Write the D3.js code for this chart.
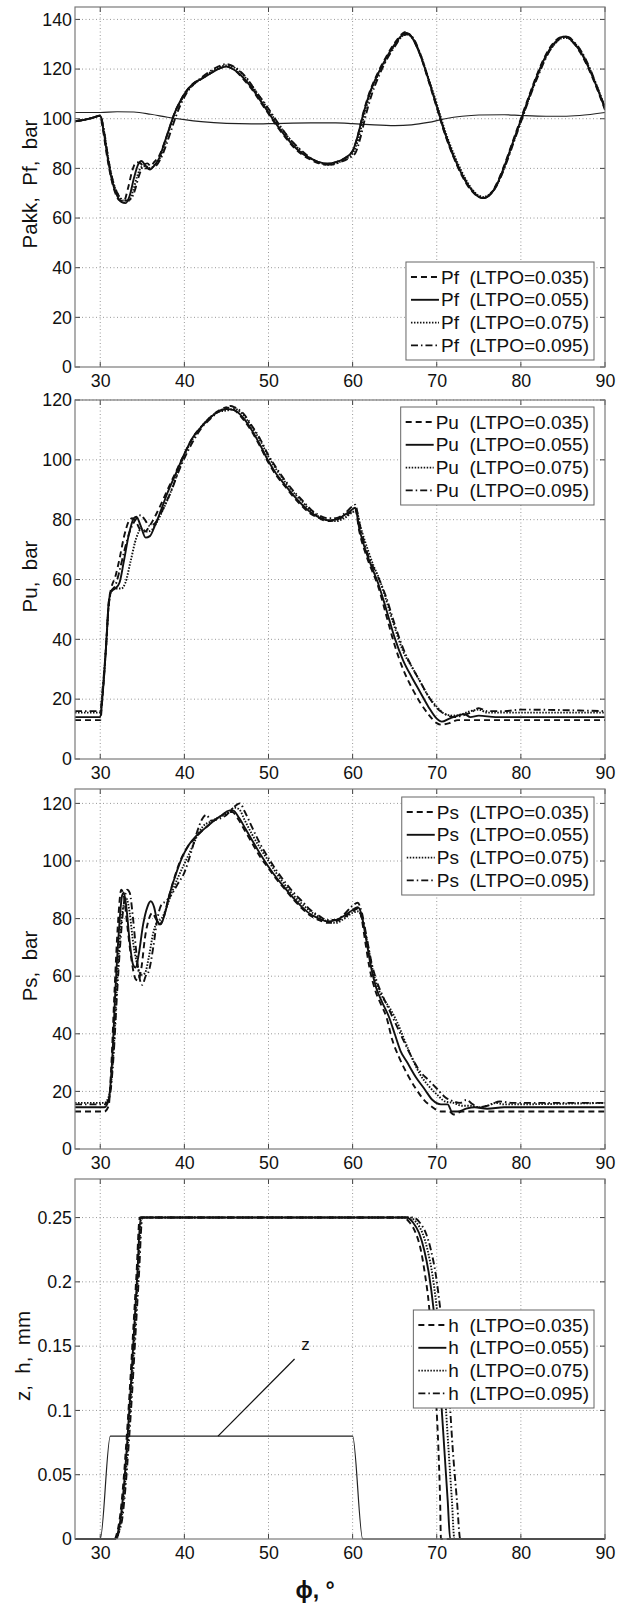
<!DOCTYPE html>
<html><head><meta charset="utf-8">
<script src="https://cdn.jsdelivr.net/npm/d3@7"></script>
<style>
body{margin:0;background:#fff}
svg{display:block}
text{font-family:"Liberation Sans",Arial,Helvetica,sans-serif;fill:#111}
</style>
</head><body>
<svg id="c" width="619" height="1607"></svg>
<script>
// ---------- data ----------
const xDomain = [27, 90];
const xTicks = [30, 40, 50, 60, 70, 80, 90];
const yTicksP = [0, 20, 40, 60, 80, 100, 120, 140];
const yTicksU = [0, 20, 40, 60, 80, 100, 120];
const yTicksH = [0, 0.05, 0.1, 0.15, 0.2, 0.25];
const ltpo = ["0.035", "0.055", "0.075", "0.095"];
const dashes = ["6,4", null, "1.5,1.5", "7,3,1.5,3"];

// Panel 1: Pf for each LTPO, plus Pakk (thin)
const pf035 = [[27,99],[28,99.5],[29,100.3],[30,101.2],[30.3,96],[30.8,85],[31.3,76],[31.8,70],[32.3,67],[32.8,66.8],[33.3,72],[33.8,79],[34.3,82.5],[34.8,82],[35.3,80],[35.8,80],[36.4,82.5],[37,85],[37.6,90],[38.2,96],[38.8,102],[39.5,107],[40,110],[41,114],[42,116],[43,118],[44,120],[45,121],[46,119.5],[47,116],[48,112],[49,107],[50,102],[51,97],[52,92.5],[53,88.5],[54,85.5],[55,83.5],[56,82],[56.8,81.5],[58,82.5],[59,84],[60,87],[60.6,93],[61.2,101.5],[62,110.5],[63,118.5],[64,125],[65,130.5],[66,134.5],[66.3,135],[67,133],[68,126],[69,115.5],[70,104.5],[71,93.5],[72,84.5],[73,77],[74,71.5],[75,68.5],[75.5,68],[76,68.5],[77,73],[78,81],[79,90.5],[80,100],[81,109.5],[82,118.5],[83,126],[84,131],[85,133],[85.4,133],[86,131.5],[87,127],[88,120.5],[89,112.5],[90,103.5]];
const pf055 = [[27,99],[28,99.5],[29,100.3],[30,101.2],[30.4,95],[30.9,84],[31.4,75],[32,69],[32.5,66.5],[33,66],[33.5,69],[34,76],[34.5,81.5],[34.9,83],[35.4,81],[35.9,79.5],[36.5,81.5],[37,84],[37.6,90],[38.2,96],[38.8,102],[39.5,107],[40,110],[41,114],[42,116],[43,118],[44,120],[45,121],[46,119.5],[47,116.5],[48,112.5],[49,107.5],[50,102.5],[51,97.5],[52,93],[53,89],[54,86],[55,84],[56,82.5],[57,82],[58,82.5],[59,84],[60,87],[60.6,93],[61.2,101],[62,110],[63,118],[64,124.5],[65,130],[66,134],[66.4,134.5],[67,133],[68,126],[69,116],[70,105],[71,94],[72,85],[73,77.5],[74,72],[75,68.5],[75.5,68],[76,68.5],[77,72.5],[78,80.5],[79,90],[80,99.5],[81,109],[82,118],[83,125.5],[84,130.5],[85,133],[85.5,133],[86,131.5],[87,127.5],[88,121],[89,113],[90,104]];
const pf075 = [[27,99],[28,99.5],[29,100.3],[30,101.2],[30.5,94],[31,83],[31.5,75],[32.2,69],[32.8,67],[33.4,67],[33.9,71],[34.4,77],[34.9,80.5],[35.4,81],[35.9,80],[36.4,81],[37,83.5],[37.6,89],[38.2,95.5],[38.8,101.5],[39.5,106.5],[40,109.5],[41,113.5],[42,116],[43,118.5],[44,120.5],[45,121.5],[46,120.5],[47,117.5],[48,113.5],[49,108.5],[50,103.5],[51,98.5],[52,94],[53,90],[54,86.5],[55,84],[56,82.5],[57,81.5],[58,82],[59,83.5],[60,86],[60.7,92],[61.3,100.5],[62,109],[63,117.5],[64,124],[65,129.5],[66,133.5],[66.5,134],[67,133],[68,126.5],[69,116.5],[70,106],[71,95],[72,86],[73,78.5],[74,72.5],[75,69],[75.6,68.5],[76,69],[77,72.5],[78,80],[79,89.5],[80,99],[81,108.5],[82,117.5],[83,125],[84,130],[85,132.5],[85.6,132.5],[86,131.5],[87,128],[88,121.5],[89,113.5],[90,104.5]];
const pf095 = [[27,99],[28,99.5],[29,100.3],[30,101.2],[30.5,94],[31,83],[31.5,75],[32.2,69],[32.9,67],[33.6,67.5],[34.1,71],[34.6,77],[35.1,81],[35.6,82],[36.1,80.5],[36.6,81],[37.2,84],[37.8,89],[38.4,95],[39,101],[39.6,106],[40.2,110],[41,113.5],[42,116.5],[43,119],[44,121],[45,122],[45.6,121.5],[46.5,119.5],[47.5,116],[48.5,111],[49.5,106.5],[50.5,101.5],[51.5,96.5],[52.5,92],[53.5,88.5],[54.5,85.5],[55.5,83],[56.5,81.8],[57.5,81.5],[58.5,82.5],[59.5,84],[60.3,86],[60.9,92],[61.5,100.5],[62.2,109],[63.1,117],[64,123.5],[65,129],[66,133.5],[66.6,134],[67.2,132.5],[68.1,125.5],[69.1,115],[70.1,104],[71.1,93],[72.1,84],[73.1,77],[74.1,71.5],[75.1,68.5],[75.6,68],[76.2,69],[77.2,73.5],[78.2,81.5],[79.2,91],[80.2,100.5],[81.2,110],[82.2,118.5],[83.2,126],[84.2,131],[85.2,133],[85.7,132.8],[86.3,131],[87.3,126.5],[88.3,119.5],[89.2,111.5],[90,104.5]];
const pakk = [[27,102.5],[30,102.5],[32,102.8],[34,102.7],[36,101.8],[38,100.6],[40,99.6],[42,98.8],[45,98.1],[48,97.9],[50,98],[55,98.3],[58,98.3],[60,98],[62,97.6],[65,97.2],[67,97.5],[69,98.5],[71,100],[73,101],[75,101.5],[78,101.6],[80,101.3],[83,101],[85,101],[87,101.3],[90,102.5]];

// Panel 2: Pu
const pu035 = [[27,13],[30,13],[30.3,22],[30.7,38],[31,52],[31.3,57],[31.8,61],[32.3,67],[32.8,74],[33.4,79.5],[33.8,80.5],[34.3,79],[34.8,76.5],[35.3,76],[35.9,78],[36.5,81],[37.2,85],[38,90],[39,96],[40,102],[41,107.5],[42,111],[43,114],[44,116.3],[45,117.5],[46,116.5],[47,113.5],[48,109.5],[49,104.5],[50,99],[51,94.5],[52,91],[53,87.5],[54,84.5],[55,82],[56,80.5],[57,79.5],[58,80],[59,81],[60,83],[60.3,83.5],[60.8,76],[61.5,69],[62.3,63],[63,58],[64,48],[65,38],[66,30],[67,24],[68,19],[69,15],[70,12],[70.5,11.5],[71.5,12],[72.5,13],[73.5,13],[75,13],[80,13],[90,13]];
const pu055 = [[27,14],[30,14],[30.3,22],[30.7,38],[31,52],[31.3,56],[31.8,57],[32.3,59],[32.8,66],[33.4,75],[34,80.5],[34.3,81],[34.8,78],[35.4,74],[35.9,74.5],[36.5,78],[37.2,83],[38,89],[39,95.5],[40,102],[41,107.5],[42,111],[43,114],[44,116],[45,117],[46,116.5],[47,114],[48,110],[49,105],[50,99.5],[51,95],[52,91.5],[53,88],[54,85],[55,82.5],[56,80.8],[57,79.8],[58,80],[59,81.5],[60,83.5],[60.3,84],[60.8,77],[61.5,70],[62.3,64],[63,59],[64,50],[65,40.5],[66,33],[67,27.5],[68,22.5],[69,17.5],[70,13.5],[70.6,12.5],[71.5,13.5],[72.5,14.5],[73.3,15],[74,14],[75,14.5],[77,14],[80,14],[90,14]];
const pu075 = [[27,15.5],[30,15.5],[30.3,23],[30.7,38],[31,51],[31.3,56],[31.8,57],[32.5,57],[33,59],[33.6,66],[34.3,74],[34.9,77],[35.5,76],[36.1,76.5],[36.7,79],[37.4,83],[38.2,88],[39,94],[40,101.5],[41,107],[42,111],[43,114],[44,116],[45,116.5],[46,117],[47,115],[48,111],[49,106.5],[50,101],[51,96.5],[52,92.5],[53,89],[54,86],[55,83],[56,81],[57,79.8],[58,79.5],[59,80.5],[60,82.5],[60.4,83],[61,77],[61.8,70],[62.5,64.5],[63.2,60],[64,53],[65,44],[66,36],[67,31],[68,26],[69,21],[70,17.5],[71,15],[72,14.5],[73,15],[74,16],[75,16.5],[76,15.5],[78,15.5],[90,15.5]];
const pu095 = [[27,16],[30,16],[30.3,24],[30.7,38],[31,51],[31.3,56],[31.8,58],[32.3,63],[32.9,70],[33.5,76],[34.2,80],[34.8,81.5],[35.3,80],[35.8,78],[36.4,78.5],[37,81],[37.7,85],[38.5,90],[39.3,96],[40,100.5],[41,106],[42,110.5],[43,113.5],[44,116],[45,117.5],[45.5,118],[46,117.5],[47,115.5],[48,111.5],[49,107],[50,101.5],[51,97],[52,93],[53,89.5],[54,86.5],[55,83.5],[56,81.5],[57,80.5],[58,80.5],[59,82],[60,84.5],[60.3,85],[60.8,79],[61.5,71],[62.3,65],[63,61],[64,54],[65,45],[66,37],[67,31],[68,26],[69,21],[70,17],[71,15],[72,14],[73,14.5],[74,15.5],[75,17],[76,16],[78,16],[80,16.5],[90,16]];

// Panel 3: Ps
const ps035 = [[27,13],[30.5,13],[31,15],[31.3,28],[31.7,55],[32.1,78],[32.5,90],[32.8,88],[33.2,78],[33.7,66],[34.2,59],[34.5,58.5],[34.9,63],[35.3,73],[35.8,80],[36.2,82],[36.6,80],[37,78],[37.5,80],[38.1,87],[38.8,94],[39.5,100],[40.3,104.5],[41.3,108],[42.3,111],[43.3,113.5],[44.3,115.5],[45.2,117],[45.7,117],[46.4,114.5],[47.2,110.5],[48,106.5],[49,101.5],[50,97.5],[51,93.5],[52,90],[53,86.5],[54,83.5],[55,81],[56,79.5],[57,78.5],[58,79],[59,80.5],[60,82.5],[60.6,83.5],[61,81],[61.5,72],[62,63],[62.7,55],[63.4,50],[64,46],[64.7,38],[65.5,32],[66.5,26],[67.5,21],[68.5,17],[69.5,14.5],[70.5,13],[71.5,13],[72,12],[73,13],[75,13],[80,13],[90,13]];
const ps055 = [[27,14.5],[30.5,14.5],[31,17],[31.4,30],[31.8,55],[32.2,75],[32.6,88],[32.8,89],[33.1,84],[33.5,72],[33.9,64],[34.2,63],[34.6,68],[35.1,78],[35.6,84],[36,86],[36.4,84],[36.8,79],[37.2,78],[37.7,82],[38.3,89],[39,95.5],[39.7,101],[40.5,105.5],[41.5,109],[42.5,111.5],[43.5,114],[44.5,116],[45.3,117.5],[45.8,117.5],[46.5,115],[47.3,111],[48,107.5],[49,102.5],[50,98],[51,94],[52,90.5],[53,87],[54,84],[55,81.5],[56,80],[57,79],[58,79.5],[59,81],[60,83],[60.6,84],[61,82],[61.6,73],[62.2,63],[62.8,56],[63.5,51],[64.3,46],[65,40],[65.7,34],[66.5,30],[67.5,25],[68.5,21],[69.5,17],[70.5,15.5],[71.3,15.5],[71.8,13],[72.5,13],[73.5,14],[74.5,14.5],[76,14],[78,14.5],[90,14.5]];
const ps075 = [[27,16],[30.5,16],[31.1,19],[31.6,35],[32,58],[32.4,76],[32.8,85],[33.1,87],[33.5,82],[33.9,72],[34.4,64],[34.9,60.5],[35.3,61],[35.8,67],[36.3,75],[36.8,79],[37.3,80],[37.9,84],[38.5,89],[39.2,94],[40,99],[40.8,104],[41.5,108.5],[42.2,112],[43,113.5],[44,115],[45,116.5],[46,118.5],[46.5,118],[47.2,114],[48,109.5],[49,104.5],[50,100],[51,95.5],[52,91.5],[53,88],[54,85],[55,82.5],[56,80.5],[57,79],[58,78.5],[59,80],[60,82],[60.7,82.5],[61.2,79],[61.8,71],[62.4,62],[63,56],[63.7,52],[64.5,48.5],[65.3,44],[66,39],[67,32],[68,26],[69,22],[70,19],[71,16.5],[72,16],[73,15],[74,15],[75,14.5],[76,15],[77,16],[78,15.5],[90,16]];
const ps095 = [[27,15.5],[30.5,15.5],[31.1,18],[31.6,33],[32,54],[32.4,72],[32.8,85],[33.2,90],[33.5,89],[33.9,80],[34.3,68],[34.7,59],[35,57],[35.4,60],[35.8,62],[36.3,70],[36.8,80],[37.3,85],[37.8,86],[38.4,88],[39.2,92],[40,96],[40.8,103],[41.5,110],[42.1,114.5],[42.6,116],[43.2,114],[44,114.5],[45,116],[46,119],[46.6,120],[47.2,117],[48,112],[49,106],[50,101],[51,96.5],[52,92.5],[53,89],[54,86],[55,83],[56,81],[57,79.5],[58,79.5],[59,81.5],[60,84.5],[60.6,85.5],[61.1,82],[61.7,73],[62.3,64],[62.9,58],[63.6,53],[64.4,48],[65.2,43],[66,38],[67,32],[68,27],[69,24],[70,21],[71,18],[72,16.5],[72.8,16],[73.5,17],[74.3,15.5],[75,14.5],[76,15],[77.5,16.5],[79,16],[90,16]];

// Panel 4: h for each LTPO, plus z (thin)
const h035 = [[27,0],[31.7,0],[32,0.005],[32.3,0.015],[32.7,0.04],[33.1,0.075],[33.5,0.115],[33.9,0.16],[34.3,0.205],[34.7,0.25],[66,0.25],[66.8,0.246],[67.5,0.238],[68.1,0.225],[68.6,0.206],[69.1,0.18],[69.5,0.145],[69.9,0.11],[70.2,0.07],[70.4,0.03],[70.5,0],[90,0]];
const h055 = [[27,0],[31.8,0],[32.1,0.005],[32.4,0.015],[32.8,0.04],[33.2,0.075],[33.6,0.115],[34,0.16],[34.4,0.205],[34.8,0.25],[66.4,0.25],[67.2,0.246],[67.9,0.238],[68.5,0.225],[69.1,0.205],[69.6,0.18],[70.1,0.145],[70.5,0.11],[70.9,0.07],[71.3,0.03],[71.6,0],[90,0]];
const h075 = [[27,0],[31.9,0],[32.2,0.005],[32.5,0.015],[32.9,0.04],[33.3,0.075],[33.7,0.115],[34.1,0.16],[34.5,0.205],[34.9,0.25],[66.8,0.25],[67.6,0.246],[68.3,0.238],[68.9,0.225],[69.5,0.205],[70,0.18],[70.6,0.145],[71,0.11],[71.4,0.07],[71.8,0.03],[72.1,0],[90,0]];
const h095 = [[27,0],[31.9,0],[32.2,0.005],[32.6,0.015],[33,0.04],[33.4,0.075],[33.8,0.115],[34.2,0.16],[34.6,0.205],[35,0.25],[67.2,0.25],[68,0.246],[68.7,0.238],[69.3,0.225],[69.9,0.205],[70.4,0.18],[71,0.145],[71.5,0.11],[71.9,0.07],[72.4,0.03],[72.8,0],[90,0]];
const zLift = [[27,0],[30,0],[31.2,0.08],[60,0.08],[61.2,0],[90,0]];
const zLabelAt = [54.4, 0.147];
const zLeader = [[53.1, 0.140], [44.0, 0.08]];

// ---------- layout ----------
const svg = d3.select("#c");
const L = 75, R = 605;
const x = d3.scaleLinear().domain(xDomain).range([L, R]);

const panels = [
  {top: 7,    bottom: 367,  ymax: 145,  ticks: yTicksP, ylab: "Pakk,  Pf,  bar", labX: 37,
   name: "Pf", series: [pf035, pf055, pf075, pf095], thin: pakk, legTop: 262},
  {top: 400,  bottom: 759,  ymax: 120,  ticks: yTicksU, ylab: "Pu,  bar", labX: 37,
   name: "Pu", series: [pu035, pu055, pu075, pu095], thin: null, legTop: 407},
  {top: 789,  bottom: 1149, ymax: 125,  ticks: yTicksU, ylab: "Ps,  bar", labX: 37,
   name: "Ps", series: [ps035, ps055, ps075, ps095], thin: null, legTop: 797},
  {top: 1179, bottom: 1539, ymax: 0.28, ticks: yTicksH, ylab: "z,  h,  mm", labX: 30,
   name: "h", series: [h035, h055, h075, h095], thin: zLift, legTop: 1310}
];

panels.forEach((p, pi) => {
  const y = d3.scaleLinear().domain([0, p.ymax]).range([p.bottom, p.top]);
  const g = svg.append("g");
  const cid = "clip" + pi;
  svg.append("clipPath").attr("id", cid).append("rect")
    .attr("x", L).attr("y", p.top - 1).attr("width", R - L).attr("height", p.bottom - p.top + 2);

  // grid
  const grid = g.append("g").attr("stroke", "#999").attr("stroke-width", 1)
    .attr("stroke-dasharray", "1,2.5").attr("fill", "none");
  xTicks.forEach(t => { if (t < xDomain[1]) grid.append("line")
      .attr("x1", x(t)).attr("x2", x(t)).attr("y1", p.top).attr("y2", p.bottom); });
  p.ticks.forEach(t => { if (t > 0) grid.append("line")
      .attr("x1", L).attr("x2", R).attr("y1", y(t)).attr("y2", y(t)); });

  // tick marks inside on all sides
  const tk = g.append("g").attr("stroke", "#444").attr("stroke-width", 1);
  xTicks.forEach(t => {
    tk.append("line").attr("x1", x(t)).attr("x2", x(t)).attr("y1", p.bottom).attr("y2", p.bottom - 5);
    tk.append("line").attr("x1", x(t)).attr("x2", x(t)).attr("y1", p.top).attr("y2", p.top + 5);
  });
  p.ticks.forEach(t => {
    tk.append("line").attr("x1", L).attr("x2", L + 5).attr("y1", y(t)).attr("y2", y(t));
    tk.append("line").attr("x1", R).attr("x2", R - 5).attr("y1", y(t)).attr("y2", y(t));
  });

  // curves
  const line = d3.line().x(d => x(d[0])).y(d => y(d[1])).curve(d3.curveMonotoneX);
  const cg = g.append("g").attr("clip-path", `url(#${cid})`);
  if (p.thin) cg.append("path").datum(p.thin).attr("d", line)
      .attr("fill", "none").attr("stroke", "#222").attr("stroke-width", 1.2);
  p.series.forEach((s, i) => {
    cg.append("path").datum(s).attr("d", line).attr("fill", "none")
      .attr("stroke", "#111").attr("stroke-width", 1.9)
      .attr("stroke-dasharray", dashes[i]);
  });

  // frame
  g.append("rect").attr("x", L).attr("y", p.top).attr("width", R - L).attr("height", p.bottom - p.top)
    .attr("fill", "none").attr("stroke", "#7a7a7a").attr("stroke-width", 1.2);

  // axes labels (d3 axes, no lines)
  const ax = g.append("g").attr("transform", `translate(0,${p.bottom})`)
    .call(d3.axisBottom(x).tickValues(xTicks).tickSize(0).tickPadding(7));
  const ay = g.append("g").attr("transform", `translate(${L},0)`)
    .call(d3.axisLeft(y).tickValues(p.ticks).tickSize(0).tickPadding(3).tickFormat(d => String(d)));
  [ax, ay].forEach(a => {
    a.select(".domain").remove();
    a.selectAll("text").style("font-size", "17.8px").attr("fill", "#111")
      .style("font-family", '"Liberation Sans",Arial,sans-serif');
  });

  // y label
  g.append("text").attr("transform", `translate(${p.labX},${(p.top + p.bottom) / 2 - 3}) rotate(-90)`)
    .attr("text-anchor", "middle").style("font-size", "20.5px").style("white-space", "pre")
    .text(p.ylab);

  // legend
  const lg = g.append("g");
  const rowH = 22.8, fs = 19;
  const rows = ltpo.map(v => `${p.name}  (LTPO=${v})`);
  const texts = rows.map((r, i) => lg.append("text").attr("y", p.legTop + 15 + i * rowH).attr("dy", "0.35em")
      .style("font-size", fs + "px").style("white-space", "pre").text(r));
  const tw = d3.max(texts, t => t.node().getComputedTextLength());
  const boxR = R - 11, boxL = boxR - (tw + 35 + 5);
  const boxH = 98;
  lg.insert("rect", "text").attr("x", boxL).attr("y", p.legTop).attr("width", boxR - boxL).attr("height", boxH)
    .attr("fill", "#fff").attr("stroke", "#666").attr("stroke-width", 1);
  texts.forEach((t, i) => {
    t.attr("x", boxL + 35);
    lg.append("line").attr("x1", boxL + 5).attr("x2", boxL + 33)
      .attr("y1", p.legTop + 15 + i * rowH).attr("y2", p.legTop + 15 + i * rowH)
      .attr("stroke", "#111").attr("stroke-width", 1.9).attr("stroke-dasharray", dashes[i]);
  });

  // z annotation in last panel
  if (p.name === "h") {
    g.append("text").attr("x", x(zLabelAt[0])).attr("y", y(zLabelAt[1]))
      .attr("text-anchor", "middle").style("font-size", "17px").text("z");
    g.append("line").attr("x1", x(zLeader[0][0])).attr("y1", y(zLeader[0][1]))
      .attr("x2", x(zLeader[1][0])).attr("y2", y(zLeader[1][1]))
      .attr("stroke", "#111").attr("stroke-width", 1.2);
  }
});

// x axis title
svg.append("text").attr("x", 315).attr("y", 1598).attr("text-anchor", "middle")
  .style("font-size", "23px").style("font-weight", "bold").style("white-space", "pre").text("ϕ, °");
</script>
</body></html>
